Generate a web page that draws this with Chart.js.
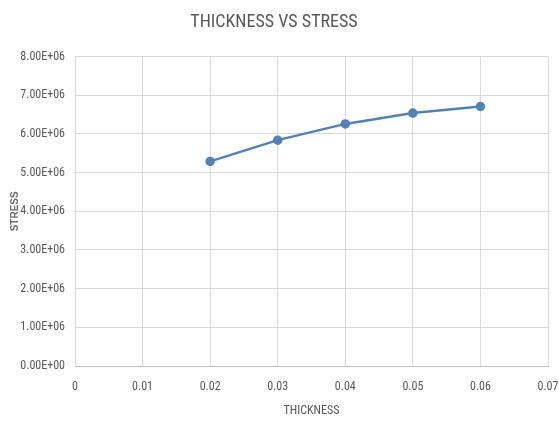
<!DOCTYPE html>
<html>
<head>
<meta charset="utf-8">
<script src="https://cdn.jsdelivr.net/npm/chart.js@4"></script>
<style>
  html, body { margin: 0; padding: 0; background: #ffffff; }
  canvas { display: block; }
</style>
</head>
<body>
<canvas id="c" width="559" height="421"></canvas>
<script>
const thickness = [0.02, 0.03, 0.04, 0.05, 0.06];
const stress = [5.29e6, 5.84e6, 6.26e6, 6.54e6, 6.71e6];
const chartTitle = 'THICKNESS VS STRESS';
const xTitle = 'THICKNESS';
const yTitle = 'STRESS';

const FONT = '"Liberation Sans Narrow", "Roboto Condensed", "DejaVu Sans Condensed", "Liberation Sans", sans-serif';
const points = thickness.map((t, i) => ({ x: t, y: stress[i] }));

function sci(v) {
  const s = Number(v).toExponential(2).toUpperCase();
  const m = s.match(/^(-?[\d.]+)E([+-])(\d+)$/);
  if (!m) return s;
  return m[1] + 'E' + m[2] + m[3].padStart(2, '0');
}

new Chart(document.getElementById('c'), {
  type: 'scatter',
  data: {
    datasets: [{
      data: points,
      showLine: true,
      borderColor: '#5580b5',
      backgroundColor: '#5580b5',
      borderWidth: 2.5,
      pointRadius: 3.5,
      pointHoverRadius: 3.5,
      tension: 0
    }]
  },
  options: {
    responsive: false,
    animation: false,
    devicePixelRatio: 1,
    layout: { padding: { left: 0, right: 11, top: 0, bottom: 0 } },
    plugins: {
      legend: { display: false },
      tooltip: { enabled: false },
      title: {
        display: true,
        text: chartTitle,
        color: '#595959',
        font: { family: FONT, size: 18, weight: 'normal' },
        padding: { top: 12, bottom: 23 }
      }
    },
    scales: {
      x: {
        type: 'linear',
        min: 0,
        max: 0.07,
        afterFit: (s) => { s.height = 55; s.paddingRight = 0; s.paddingLeft = 0; },
        ticks: {
          stepSize: 0.01,
          padding: 14,
          color: '#595959',
          font: { family: FONT, size: 12 },
          callback: (v) => (Math.abs(v) < 1e-9 ? '0' : Number(v).toFixed(2))
        },
        grid: { color: '#d9d9d9', drawTicks: false },
        border: { display: true, color: '#bfbfbf' },
        title: {
          display: true,
          text: xTitle,
          color: '#595959',
          font: { family: FONT, size: 12 },
          padding: { top: 0, bottom: 3 }
        }
      },
      y: {
        min: 0,
        max: 8e6,
        afterFit: (s) => { s.width = 75; s.paddingTop = 0; s.paddingBottom = 0; },
        ticks: {
          stepSize: 1e6,
          padding: 10,
          color: '#595959',
          font: { family: FONT, size: 12 },
          callback: (v) => sci(v)
        },
        grid: { color: '#d9d9d9', drawTicks: false },
        border: { display: true, color: '#d9d9d9' },
        title: {
          display: true,
          text: yTitle,
          color: '#6b6b6b',
          font: { family: '"Liberation Sans", "DejaVu Sans", sans-serif', size: 10, weight: 'bold' },
          padding: { top: 9, bottom: 0 }
        }
      }
    }
  }
});
</script>
</body>
</html>
